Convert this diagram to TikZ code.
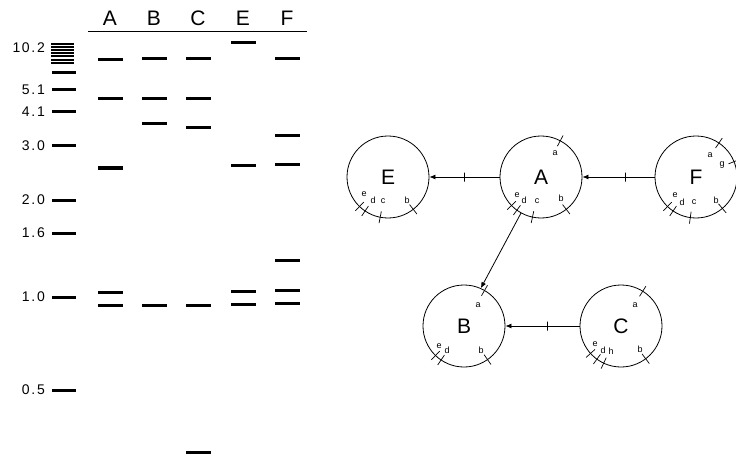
\documentclass[tikz,border=0pt]{standalone}
\usepackage{fontspec}
\setmainfont{Liberation Sans}
\usetikzlibrary{arrows.meta,calc}

\begin{document}
\begin{tikzpicture}[x=1pt,y=1pt,
    band/.style={line width=3pt},
    ladtext/.style={anchor=east,inner sep=0pt,font=\fontsize{14}{14}\selectfont\addfontfeature{LetterSpace=12}},
    plasmid/.style={draw,circle,line width=0.8pt,minimum size=82pt,inner sep=0pt,font=\fontsize{21}{21}\selectfont},
    site/.style={inner sep=0pt,font=\fontsize{9}{9}\selectfont},
    arr/.style={line width=0.8pt,-{Latex[length=6pt,width=5pt]}},
    midtick/.style={draw,line width=0.7pt,inner sep=0pt,minimum width=0pt,minimum height=9pt}]

    \useasboundingbox (0,0) rectangle (736,456);

    % lanes
    \foreach \x/\l in {110/A,154/B,198/C,243/E,287/F}
        \node [inner sep=0pt,font=\fontsize{21}{21}\selectfont] (lane\l) at (\x,438) {\l};
    \draw [line width=0.8pt] (88,425) -- (307,425);

    % size marker
    \foreach \y in {412,409,406,403,400,396,393}
        \draw [line width=2.2pt] (51,\y) -- (74,\y);
    \foreach \y in {383,366,344,310,256,223,159,66}
        \draw [band] (52,\y) -- (76,\y);
    \foreach \y/\t in {408/10.2,366/5.1,344/4.1,310/3.0,256/2.0,223/1.6,159/1.0,66/0.5}
        \node [ladtext] at (45,\y) {\t};

    % fragments
    \foreach \y in {396,357,288,164,151}
        \draw [band] (98,\y) -- (123,\y);
    \foreach \y in {397,357,332,151}
        \draw [band] (142,\y) -- (167,\y);
    \foreach \y in {397,357,328,151,4}
        \draw [band] (186,\y) -- (211,\y);
    \foreach \y in {413,290,165,152}
        \draw [band] (231,\y) -- (256,\y);
    \foreach \y in {397,320,291,196,166,153}
        \draw [band] (275,\y) -- (300,\y);

    % maps
    \node [plasmid] (E) at (388,279) {E};
    \node [plasmid] (A) at (541,279) {A};
    \node [plasmid] (F) at (696,279) {F};
    \node [plasmid] (B) at (464,130) {B};
    \node [plasmid] (C) at (621,130) {C};

    \foreach \n/\a in {E/226,E/236,E/259,E/308,
                       A/62,A/224,A/234,A/258,A/308,
                       F/56,F/22,F/226,F/236,F/262,F/310,
                       B/60,B/226,B/236,B/305,
                       C/58,C/222,C/234,C/245,C/307}
        \draw [line width=0.7pt] (\n.center) ++(\a:35) -- ++(\a:12);

    \foreach \n/\dx/\dy/\t in {E/-24/-17/e,E/-15/-23/d,E/-5/-24/c,E/19/-23/b,
                               A/14/24/a,A/-24/-18/e,A/-17/-23/d,A/-4/-24/c,A/20/-21/b,
                               F/14/22/a,F/26/12/g,F/-21/-18/e,F/-14/-25/d,F/-2/-25/c,F/20/-23/b,
                               B/14/21/a,B/-25/-20/e,B/-17/-24/d,B/17/-24/b,
                               C/14/21/a,C/-26/-18/e,C/-18/-24/d,C/-10/-25/h,C/19/-23/b}
        \node [site] at ($(\n.center)+(\dx,\dy)$) {\t};

    \draw [arr] (A) -- node [pos=0.5,midtick] {} (E);
    \draw [arr] (F) -- node [pos=0.4,midtick] {} (A);
    \draw [arr] (C) -- node [pos=0.43,midtick] {} (B);
    \draw [arr] (A.241) -- (B.66);

\end{tikzpicture}
\end{document}
